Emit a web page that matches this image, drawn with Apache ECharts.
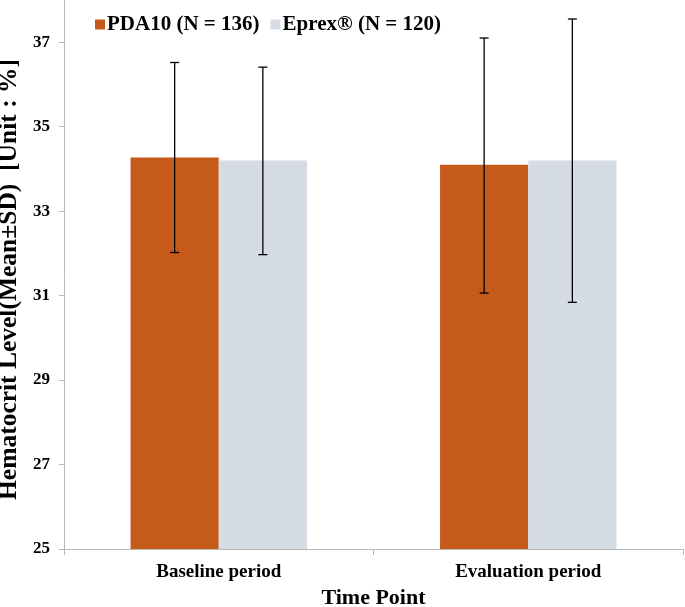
<!DOCTYPE html>
<html>
<head>
<meta charset="utf-8">
<script src="https://cdn.jsdelivr.net/npm/echarts@6/dist/echarts.min.js"></script>
<style>html,body{margin:0;padding:0;background:#fff;}#c{width:685px;height:607px;}</style>
</head>
<body>
<div id="c"></div>
<script>
const categories = ['Baseline period', 'Evaluation period'];
const seriesNames = ['PDA10 (N = 136)', 'Eprex® (N = 120)'];
const pdaMean = [34.27, 34.10];
const pdaLow = [32.02, 31.06];
const pdaHigh = [36.52, 37.10];
const eprexMean = [34.20, 34.20];
const eprexLow = [31.97, 30.84];
const eprexHigh = [36.41, 37.55];
const yTicks = [25, 27, 29, 31, 33, 35, 37];

const FONT = '"Liberation Serif", "Times New Roman", serif';
const chart = echarts.init(document.getElementById('c'));

function errorSeries(idx, lows, highs) {
  return {
    type: 'custom',
    silent: true,
    z: 10,
    data: categories.map((c, i) => [i, lows[i], highs[i]]),
    renderItem: function (params, api) {
      const x = api.value(0);
      const lo = api.coord([x, api.value(1)]);
      const hi = api.coord([x, api.value(2)]);
      const bw = api.size([1, 0])[0];
      const barW = bw * 0.285;
      const cx = lo[0] + (idx === 0 ? -barW / 2 : barW / 2);
      const cap = 4.5;
      const style = { stroke: '#000', lineWidth: 1.3 };
      return {
        type: 'group',
        children: [
          { type: 'line', shape: { x1: cx, y1: hi[1], x2: cx, y2: lo[1] }, style: style },
          { type: 'line', shape: { x1: cx - cap, y1: hi[1], x2: cx + cap, y2: hi[1] }, style: style },
          { type: 'line', shape: { x1: cx - cap, y1: lo[1], x2: cx + cap, y2: lo[1] }, style: style }
        ]
      };
    }
  };
}

chart.setOption({
  animation: false,
  backgroundColor: '#fff',
  grid: { left: 64, right: 2, top: 0, bottom: 58, outerBoundsMode: 'none', containLabel: false },
  legend: {
    data: seriesNames,
    left: 95, top: 14, padding: 0,
    itemWidth: 10, itemHeight: 10, itemGap: 11,
    icon: 'rect',
    textStyle: { fontFamily: FONT, fontWeight: 'bold', fontSize: 21, color: '#000', padding: [0, 0, 0, -3] }
  },
  xAxis: {
    type: 'category',
    data: categories,
    axisLine: { lineStyle: { color: '#b8b8b8', width: 1 } },
    axisTick: { show: true, length: 6, lineStyle: { color: '#b8b8b8' } },
    axisLabel: { fontFamily: FONT, fontWeight: 'bold', fontSize: 19, color: '#000', margin: 14 },
    name: 'Time Point',
    nameLocation: 'middle',
    nameGap: 37,
    nameTextStyle: { fontFamily: FONT, fontWeight: 'bold', fontSize: 22, color: '#000' }
  },
  yAxis: {
    type: 'value',
    min: 25, max: 38,
    splitLine: { show: false },
    axisLine: { show: true, lineStyle: { color: '#b8b8b8', width: 1 } },
    axisTick: { show: true, length: 5, customValues: yTicks, lineStyle: { color: '#b8b8b8' } },
    axisLabel: { customValues: yTicks, fontFamily: FONT, fontWeight: 'bold', fontSize: 17, color: '#000', margin: 14 },
    name: 'Hematocrit Level(Mean±SD)  [Unit : %]',
    nameLocation: 'middle',
    nameGap: 36,
    nameTextStyle: { fontFamily: FONT, fontWeight: 'bold', fontSize: 25.5, color: '#000', padding: [0, 10, 0, 0] }
  },
  series: [
    { name: seriesNames[0], type: 'bar', data: pdaMean, itemStyle: { color: '#C55A1A' }, barGap: '0%', barCategoryGap: '43%' },
    { name: seriesNames[1], type: 'bar', data: eprexMean, itemStyle: { color: '#D6DCE4' }, barGap: '0%', barCategoryGap: '43%' },
    errorSeries(0, pdaLow, pdaHigh),
    errorSeries(1, eprexLow, eprexHigh)
  ]
});
</script>
</body>
</html>
